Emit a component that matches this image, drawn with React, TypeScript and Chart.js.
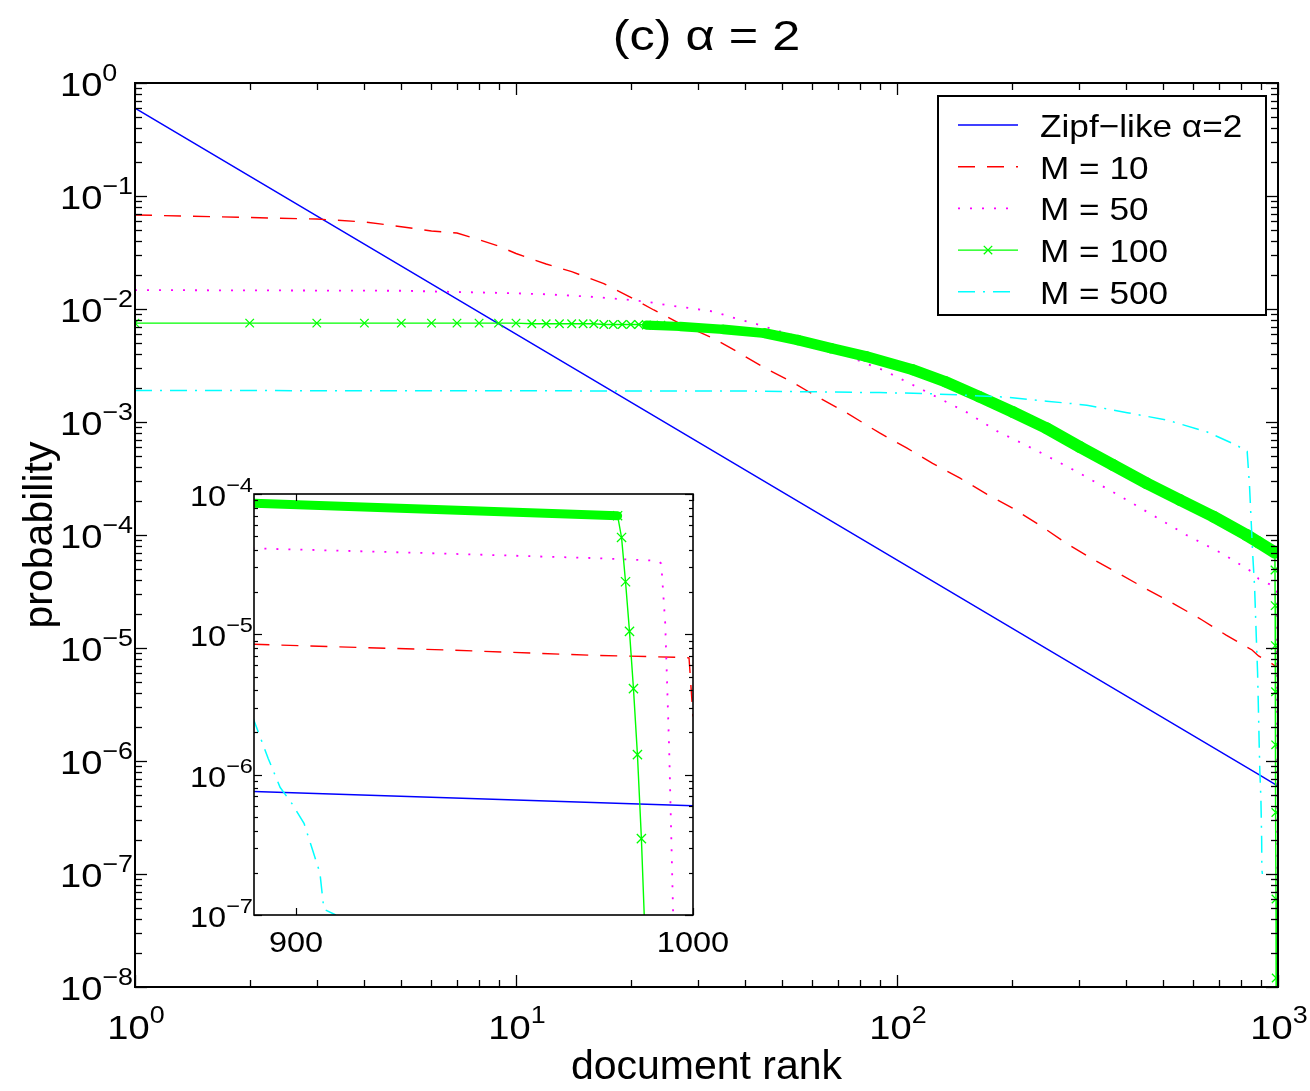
import { useEffect, useRef } from "react";
import { Chart, registerables } from "chart.js";

Chart.register(...registerables);

const FONT = '"Liberation Sans", Arial, Helvetica, sans-serif';

// ---------------- data ----------------
const zipfRanks = [1, 889, 1000];
const zipfProbs = [0.6, 7.6e-7, 6.0e-7];

const m10Ranks = [1, 2, 3, 4, 5, 6, 7, 8, 9, 10, 12, 14, 17, 20, 23, 27, 33, 38, 45, 53, 62, 73, 90, 106, 124, 146, 172, 201, 237, 279, 327, 385, 453, 540, 632, 731, 855, 889, 940, 974, 997, 999, 1000];
const m10Probs = [0.068, 0.0645, 0.0625, 0.059, 0.0535, 0.049, 0.047, 0.041, 0.036, 0.031, 0.025, 0.0214, 0.0168, 0.0127, 0.0098, 0.0074, 0.0055, 0.0042, 0.003, 0.00226, 0.00166, 0.00123, 8.0e-4, 5.9e-4, 4.3e-4, 3.2e-4, 2.3e-4, 1.73e-4, 1.22e-4, 8.4e-5, 6.1e-5, 4.5e-5, 3.3e-5, 2.4e-5, 1.77e-5, 1.3e-5, 9.6e-6, 8.5e-6, 7.7e-6, 7.1e-6, 6.85e-6, 6.8e-6, 2.6e-6];

const m50Ranks = [1, 5, 9, 12, 16, 19, 22, 25, 28, 33, 37, 42, 48, 55, 63, 72, 81, 92, 118, 153, 183, 230, 298, 377, 482, 575, 711, 856, 889, 932, 974, 991, 992, 993, 994, 995, 996];
const m50Probs = [0.0147, 0.0145, 0.0139, 0.0135, 0.0128, 0.0122, 0.0116, 0.0108, 0.0103, 0.0095, 0.0084, 0.0075, 0.0065, 0.0057, 0.0048, 0.004, 0.0034, 0.00288, 0.00189, 0.00121, 8.3e-4, 5.7e-4, 3.6e-4, 2.3e-4, 1.42e-4, 1.0e-4, 6.9e-5, 4.7e-5, 4.1e-5, 3.8e-5, 3.5e-5, 3.35e-5, 3.2e-5, 1.2e-5, 1.5e-6, 1.0e-7, 3e-9];

// M = 100: individually visible markers at the first ranks
const m100Ranks = [1, 2, 3, 4, 5, 6, 7, 8, 9, 10, 11, 12, 13, 14, 15, 16, 17, 18, 19, 20, 21, 22, 23, 24];
const m100Probs = [0.0075, 0.0075, 0.0075, 0.0075, 0.0075, 0.0075, 0.0075, 0.0075, 0.0075, 0.0075, 0.0074, 0.0074, 0.0074, 0.0074, 0.0074, 0.0074, 0.0073, 0.0073, 0.0073, 0.0073, 0.0073, 0.0072, 0.0072, 0.0072];
// M = 100: dense band of overlapping markers
const m100BandRanks = [22, 27, 35, 45, 55, 67, 83, 110, 134, 164, 201, 247, 302, 369, 452, 553, 678, 827, 889, 981];
const m100BandProbs = [0.0072, 0.007, 0.0066, 0.0061, 0.0053, 0.0045, 0.0038, 0.0029, 0.00227, 0.00168, 0.00123, 8.8e-4, 6.0e-4, 4.16e-4, 2.87e-4, 2.04e-4, 1.45e-4, 1.0e-4, 8.6e-5, 7.0e-5];
// M = 100: final drop
const m100TailRanks = [981, 982, 983, 984, 985, 986, 987, 988, 989, 990];
const m100TailProbs = [7.0e-5, 4.9e-5, 2.37e-5, 1.05e-5, 4.1e-6, 1.39e-6, 3.5e-7, 6e-8, 1.2e-8, 1e-9];

const m500Ranks = [1, 40, 90, 117, 149, 194, 247, 315, 402, 511, 650, 780, 830, 842, 850, 858, 868, 877, 884, 889, 893, 896, 899, 902, 904, 906, 907, 910];
const m500Probs = [1.9e-3, 1.88e-3, 1.82e-3, 1.79e-3, 1.73e-3, 1.66e-3, 1.53e-3, 1.41e-3, 1.21e-3, 1.04e-3, 8.2e-4, 6.2e-4, 5.5e-4, 2.7e-4, 1.36e-4, 6.9e-5, 3.5e-5, 1.26e-5, 6.0e-6, 2.6e-6, 1.3e-6, 8.1e-7, 6.2e-7, 4.5e-7, 3.0e-7, 2.0e-7, 1.1e-7, 1.0e-7];

const mainXTicks = [1, 10, 100, 1000];
const mainXTickExps = ["0", "1", "2", "3"];
const mainYTicks = [1, 1e-1, 1e-2, 1e-3, 1e-4, 1e-5, 1e-6, 1e-7, 1e-8];
const mainYTickExps = ["0", "\u22121", "\u22122", "\u22123", "\u22124", "\u22125", "\u22126", "\u22127", "\u22128"];
const insetXTicks = [900, 1000];
const insetXTickLabels = ["900", "1000"];
const insetYTicks = [1e-4, 1e-5, 1e-6, 1e-7];
const insetYTickExps = ["\u22124", "\u22125", "\u22126", "\u22127"];

const legendLabels = ["Zipf\u2212like \u03b1=2", "M = 10", "M = 50", "M = 100", "M = 500"];
const titleText = "(c) \u03b1 = 2";
const xTitle = "document rank";
const yTitle = "probability";

// ---------------- styles ----------------
const BLUE = "#0000ff";
const RED = "#ff0000";
const MAGENTA = "#ff00ff";
const GREEN = "#00ff00";
const CYAN = "#00ffff";
const RED_DASH = [17, 12];
const MAG_DASH = [2, 10];
const CYAN_DASH = [17, 8, 2, 8];

const pts = (xs: number[], ys: number[]) => xs.map((x, i) => ({ x, y: ys[i] }));

const bandWidth = (c: any) => {
  const dx = c.p1.x - c.p0.x;
  const dy = c.p1.y - c.p0.y;
  const m = Math.abs(dy / (Math.abs(dx) < 1e-6 ? 1e-6 : dx));
  return Math.min(13, (8.8 * (1 + m)) / Math.sqrt(1 + m * m));
};

function makeDatasets(markerRadius: number): any[] {
  return [
    { label: legendLabels[0], data: pts(zipfRanks, zipfProbs), borderColor: BLUE, borderWidth: 1.4, pointRadius: 0, order: 5 },
    { label: legendLabels[1], data: pts(m10Ranks, m10Probs), borderColor: RED, borderWidth: 1.4, borderDash: RED_DASH, pointRadius: 0, order: 4 },
    { label: legendLabels[2], data: pts(m50Ranks, m50Probs), borderColor: MAGENTA, borderWidth: 1.8, borderDash: MAG_DASH, pointRadius: 0, order: 3 },
    {
      label: legendLabels[3] + " band", data: pts(m100BandRanks, m100BandProbs), borderColor: GREEN, borderWidth: 9,
      borderCapStyle: "round", borderJoinStyle: "round", segment: { borderWidth: bandWidth }, pointRadius: 0, order: 2,
    },
    {
      label: legendLabels[3], data: pts(m100Ranks, m100Probs), borderColor: GREEN, borderWidth: 1.4,
      pointStyle: "crossRot", pointRadius: markerRadius, pointBorderColor: GREEN, pointBorderWidth: 1.3, pointBackgroundColor: GREEN, order: 2,
    },
    {
      label: legendLabels[3] + " tail", data: pts(m100TailRanks, m100TailProbs), borderColor: GREEN, borderWidth: 1.4,
      pointStyle: "crossRot", pointRadius: markerRadius, pointBorderColor: GREEN, pointBorderWidth: 1.3, pointBackgroundColor: GREEN, order: 2,
    },
    { label: legendLabels[4], data: pts(m500Ranks, m500Probs), borderColor: CYAN, borderWidth: 1.5, borderDash: CYAN_DASH, pointRadius: 0, order: 1 },
  ];
}

// ---------------- text helpers ----------------
function txt(ctx: CanvasRenderingContext2D, s: string, x: number, y: number, size: number, kx = 1, align: CanvasTextAlign = "left") {
  ctx.save();
  ctx.font = `${size}px ${FONT}`;
  ctx.fillStyle = "#000";
  ctx.textAlign = align;
  ctx.textBaseline = "alphabetic";
  ctx.translate(x, y);
  ctx.scale(kx, 1);
  ctx.fillText(s, 0, 0);
  ctx.restore();
}
function tw(ctx: CanvasRenderingContext2D, s: string, size: number, kx = 1) {
  ctx.save();
  ctx.font = `${size}px ${FONT}`;
  const w = ctx.measureText(s).width * kx;
  ctx.restore();
  return w;
}
function powLabel(ctx: CanvasRenderingContext2D, x: number, y: number, exp: string, bs: number, es: number, rise: number, kx: number, align: "left" | "center") {
  const w1 = tw(ctx, "10", bs, kx);
  const w2 = tw(ctx, exp, es, kx);
  const x0 = align === "left" ? x : x - (w1 + w2) / 2;
  txt(ctx, "10", x0, y, bs, kx);
  txt(ctx, exp, x0 + w1, y - rise, es, kx);
}
function seg(ctx: CanvasRenderingContext2D, x1: number, y1: number, x2: number, y2: number) {
  ctx.beginPath();
  ctx.moveTo(x1, y1);
  ctx.lineTo(x2, y2);
  ctx.stroke();
}

// ---------------- plugins ----------------
const mainDecor = {
  id: "mainDecor",
  beforeDraw(chart: any) {
    const { ctx, width, height } = chart;
    ctx.save();
    ctx.fillStyle = "#fff";
    ctx.fillRect(0, 0, width, height);
    ctx.restore();
  },
  afterDraw(chart: any) {
    const { ctx, chartArea: a, scales } = chart;
    const xs = scales.x;
    const ys = scales.y;
    ctx.save();
    ctx.strokeStyle = "#000";
    ctx.lineWidth = 1.3;
    for (const d of mainXTicks) {
      for (let m = 1; m <= 9; m++) {
        const v = d * m;
        if (v > 1000) break;
        const px = Math.round(xs.getPixelForValue(v)) + 0.5;
        const len = m === 1 ? 12 : 7;
        seg(ctx, px, a.bottom, px, a.bottom - len);
        seg(ctx, px, a.top, px, a.top + len);
      }
    }
    for (const d of mainYTicks) {
      for (let m = 1; m <= 9; m++) {
        const v = d * m;
        if (v > 1) break;
        const py = Math.round(ys.getPixelForValue(v)) + 0.5;
        const len = m === 1 ? 12 : 7;
        seg(ctx, a.left, py, a.left + len, py);
        seg(ctx, a.right, py, a.right - len, py);
      }
    }
    ctx.lineWidth = 2;
    ctx.strokeRect(a.left, a.top, a.right - a.left, a.bottom - a.top);

    mainXTicks.forEach((v, i) => powLabel(ctx, xs.getPixelForValue(v) + 1, 1039, mainXTickExps[i], 34, 24, 16, 1.12, "center"));
    mainYTicks.forEach((v, i) => powLabel(ctx, 60, ys.getPixelForValue(v) + 13, mainYTickExps[i], 34, 24, 15, 1.12, "left"));

    txt(ctx, titleText, (a.left + a.right) / 2, 50, 42, 1.2, "center");
    txt(ctx, xTitle, (a.left + a.right) / 2, 1079, 41, 1, "center");
    ctx.save();
    ctx.translate(52, (a.top + a.bottom) / 2);
    ctx.rotate(-Math.PI / 2);
    txt(ctx, yTitle, 0, 0, 41, 1, "center");
    ctx.restore();

    // legend
    const bx = 938, by = 96, bw = 328, bh = 219;
    ctx.fillStyle = "#fff";
    ctx.fillRect(bx, by, bw, bh);
    ctx.lineWidth = 2;
    ctx.strokeStyle = "#000";
    ctx.strokeRect(bx, by, bw, bh);
    const styles = [
      { c: BLUE, d: [] as number[], w: 1.4 },
      { c: RED, d: RED_DASH, w: 1.6 },
      { c: MAGENTA, d: MAG_DASH, w: 1.8 },
      { c: GREEN, d: [] as number[], w: 1.4, marker: true },
      { c: CYAN, d: CYAN_DASH, w: 1.6 },
    ];
    legendLabels.forEach((lab, i) => {
      const y = 125 + i * 41.7;
      const st = styles[i];
      ctx.save();
      ctx.strokeStyle = st.c;
      ctx.lineWidth = st.w;
      ctx.setLineDash(st.d);
      seg(ctx, 958, y, 1018, y);
      ctx.setLineDash([]);
      if ((st as any).marker) {
        ctx.lineWidth = 1.3;
        const r = 4.2;
        seg(ctx, 988 - r, y - r, 988 + r, y + r);
        seg(ctx, 988 - r, y + r, 988 + r, y - r);
      }
      ctx.restore();
      txt(ctx, lab, 1040, y + 12, 32, 1.1, "left");
    });
    ctx.restore();
  },
};

const insetDecor = {
  id: "insetDecor",
  beforeDraw(chart: any) {
    const { ctx, chartArea: a } = chart;
    ctx.save();
    ctx.fillStyle = "#fff";
    ctx.fillRect(a.left, a.top, a.right - a.left, a.bottom - a.top);
    ctx.restore();
  },
  afterDraw(chart: any) {
    const { ctx, chartArea: a, scales } = chart;
    const xs = scales.x;
    const ys = scales.y;
    ctx.save();
    ctx.strokeStyle = "#000";
    ctx.lineWidth = 1.2;
    for (const v of insetXTicks) {
      const px = Math.round(xs.getPixelForValue(v)) + 0.5;
      seg(ctx, px, a.bottom, px, a.bottom - 7);
      seg(ctx, px, a.top, px, a.top + 7);
    }
    for (const d of insetYTicks) {
      for (let m = 1; m <= 9; m++) {
        const v = d * m;
        if (v > 1.0001e-4) break;
        const py = Math.round(ys.getPixelForValue(v)) + 0.5;
        const len = m === 1 ? 8 : 4;
        seg(ctx, a.left, py, a.left + len, py);
        seg(ctx, a.right, py, a.right - len, py);
      }
    }
    ctx.lineWidth = 1.6;
    ctx.strokeRect(a.left, a.top, a.right - a.left, a.bottom - a.top);
    insetXTicks.forEach((v, i) => txt(ctx, insetXTickLabels[i], xs.getPixelForValue(v), 492, 29, 1.12, "center"));
    insetYTicks.forEach((v, i) => powLabel(ctx, 20, ys.getPixelForValue(v) + 12, insetYTickExps[i], 29, 21, 14, 1.12, "left"));
    ctx.restore();
  },
};

function baseOptions(padding: any, xScale: any, yScale: any): any {
  return {
    responsive: false,
    animation: false,
    devicePixelRatio: 1,
    events: [],
    layout: { padding },
    plugins: { legend: { display: false }, title: { display: false }, tooltip: { enabled: false } },
    elements: { line: { tension: 0 } },
    scales: { x: xScale, y: yScale },
  };
}

export default function App() {
  const mainRef = useRef<HTMLCanvasElement>(null);
  const insetRef = useRef<HTMLCanvasElement>(null);

  useEffect(() => {
    document.body.style.margin = "0";
    const main = new Chart(mainRef.current as HTMLCanvasElement, {
      type: "line",
      data: { datasets: makeDatasets(6) },
      options: baseOptions(
        { left: 135, top: 83, right: 32, bottom: 104 },
        { type: "logarithmic", min: 1, max: 1000, display: false },
        { type: "logarithmic", min: 1e-8, max: 1, display: false }
      ),
      plugins: [mainDecor],
    } as any);
    const inset = new Chart(insetRef.current as HTMLCanvasElement, {
      type: "line",
      data: { datasets: makeDatasets(6.5) },
      options: baseOptions(
        { left: 84, top: 34, right: 57, bottom: 55 },
        { type: "linear", min: 889.4, max: 1000, display: false },
        { type: "logarithmic", min: 1e-7, max: 1e-4, display: false }
      ),
      plugins: [insetDecor],
    } as any);
    return () => {
      main.destroy();
      inset.destroy();
    };
  }, []);

  return (
    <div style={{ position: "fixed", left: 0, top: 0, width: 1310, height: 1091, background: "#fff", overflow: "hidden" }}>
      <canvas ref={mainRef} width={1310} height={1091} style={{ position: "absolute", left: 0, top: 0 }} />
      <canvas ref={insetRef} width={580} height={510} style={{ position: "absolute", left: 170, top: 460 }} />
    </div>
  );
}
